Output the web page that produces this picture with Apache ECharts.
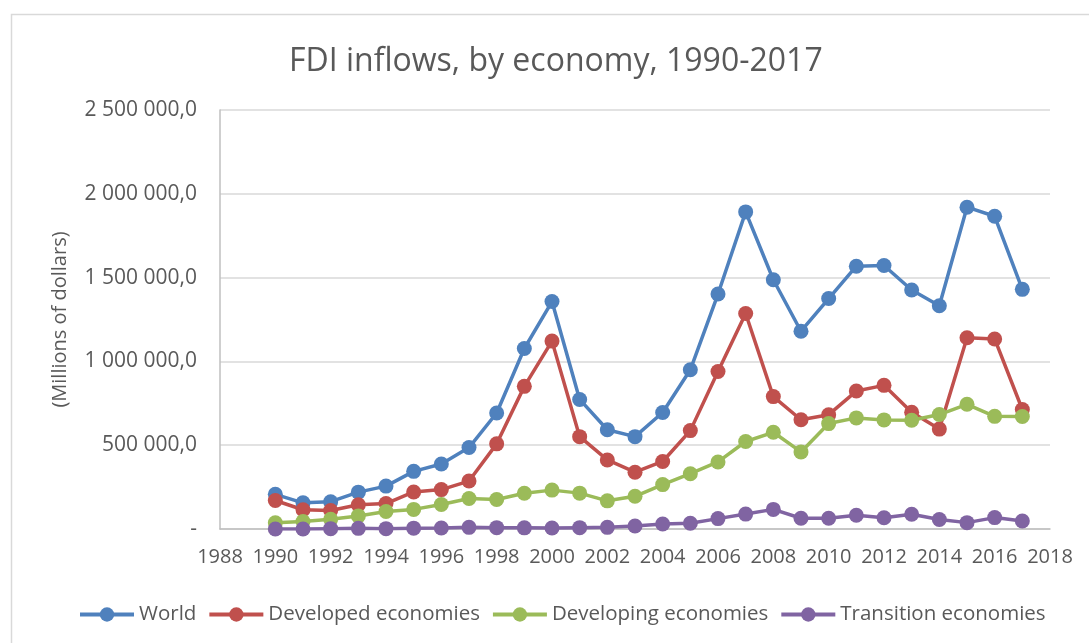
<!DOCTYPE html>
<html>
<head>
<meta charset="utf-8">
<script src="https://cdn.jsdelivr.net/npm/echarts@6/dist/echarts.min.js"></script>
<style>
  html, body { margin: 0; padding: 0; background: #ffffff; }
  #chart { width: 1089px; height: 643px; }
</style>
</head>
<body>
<div id="chart"></div>
<script>
// FDI inflows (millions of dollars), 1990-2017
const years = [1990, 1991, 1992, 1993, 1994, 1995, 1996, 1997, 1998, 1999,
               2000, 2001, 2002, 2003, 2004, 2005, 2006, 2007, 2008, 2009,
               2010, 2011, 2012, 2013, 2014, 2015, 2016, 2017];

const world = [207000, 156000, 163000, 220000, 256000, 344000, 388000, 486000, 692000, 1077000,
               1357000, 773000, 592000, 551000, 695000, 950000, 1402000, 1892000, 1487000, 1180000,
               1375000, 1568000, 1572000, 1426000, 1332000, 1920000, 1866000, 1430000];

const developed = [170000, 115000, 110000, 145000, 152000, 221000, 235000, 286000, 508000, 851000,
                   1121000, 551000, 412000, 339000, 403000, 587000, 940000, 1286000, 790000, 652000,
                   682000, 823000, 857000, 697000, 596000, 1141000, 1134000, 713000];

const developing = [37000, 45000, 58000, 78000, 104000, 117000, 146000, 182000, 176000, 213000,
                    232000, 214000, 168000, 195000, 265000, 330000, 400000, 522000, 577000, 460000,
                    629000, 663000, 651000, 649000, 683000, 744000, 672000, 671000];

const transition = [0, 0, 2000, 4000, 2000, 5000, 6000, 10000, 8000, 7000,
                    6000, 8000, 10000, 18000, 30000, 34000, 62000, 89000, 117000, 64000,
                    64000, 82000, 67000, 88000, 57000, 38000, 68000, 48000];

const seriesNames = ['World', 'Developed economies', 'Developing economies', 'Transition economies'];
const seriesValues = [world, developed, developing, transition];
const seriesColors = ['#4F81BD', '#C0504D', '#9BBB59', '#8064A2'];

const FONT = 'Open Sans';
const TEXT = '#595959';

// "2 500 000,0" style labels, with a dash for zero
function formatValue(v) {
  if (v === 0) return '-';
  const s = Math.round(v).toString().replace(/\B(?=(\d{3})+(?!\d))/g, ' ');
  return s + ',0';
}

const chart = echarts.init(document.getElementById('chart'), null, { renderer: 'canvas' });

chart.setOption({
  animation: false,
  backgroundColor: '#ffffff',
  textStyle: { fontFamily: FONT },
  graphic: [{
    type: 'rect',
    left: 9, top: 12,
    shape: { width: 1200, height: 800 },
    style: { fill: 'none', stroke: '#d9d9d9', lineWidth: 1.5 },
    silent: true, z: -1
  }],
  title: {
    text: 'FDI inflows, by economy, 1990-2017',
    left: 284,
    top: 41,
    textStyle: { fontFamily: FONT, fontSize: 32, fontWeight: 'normal', color: TEXT }
  },
  grid: { left: 220, right: 39, top: 110, bottom: 114, containLabel: false },
  xAxis: {
    type: 'value',
    min: 1988, max: 2018, interval: 2,
    axisLine: { show: true, lineStyle: { color: '#bfbfbf', width: 1.5 } },
    axisTick: { show: false },
    splitLine: { show: false },
    axisLabel: { color: TEXT, fontSize: 20, fontFamily: FONT, margin: 18, formatter: v => String(v) }
  },
  yAxis: {
    type: 'value',
    min: 0, max: 2500000, interval: 500000,
    name: '(Millions of dollars)',
    nameLocation: 'middle',
    nameGap: 150,
    nameTextStyle: { color: TEXT, fontSize: 20, fontFamily: FONT },
    axisLine: { show: true, lineStyle: { color: '#bfbfbf', width: 1.5 } },
    axisTick: { show: false },
    splitLine: { show: true, lineStyle: { color: '#d9d9d9', width: 1.5 } },
    axisLabel: { color: TEXT, fontSize: 21, fontFamily: FONT, margin: 23, formatter: formatValue }
  },
  legend: {
    left: 73,
    top: 599,
    itemWidth: 54,
    itemHeight: 18,
    itemGap: 11,
    lineStyle: { width: 4 },
    textStyle: { color: TEXT, fontSize: 20.5, fontFamily: FONT, padding: [0, 0, 0, 0] },
    data: seriesNames
  },
  series: seriesNames.map((name, i) => ({
    name: name,
    type: 'line',
    data: years.map((y, j) => [y, seriesValues[i][j]]),
    symbol: 'circle',
    symbolSize: 15,
    showAllSymbol: true,
    lineStyle: { color: seriesColors[i], width: 3.5 },
    itemStyle: { color: seriesColors[i], borderWidth: 0 },
    emphasis: { disabled: true }
  }))
});
</script>
</body>
</html>
